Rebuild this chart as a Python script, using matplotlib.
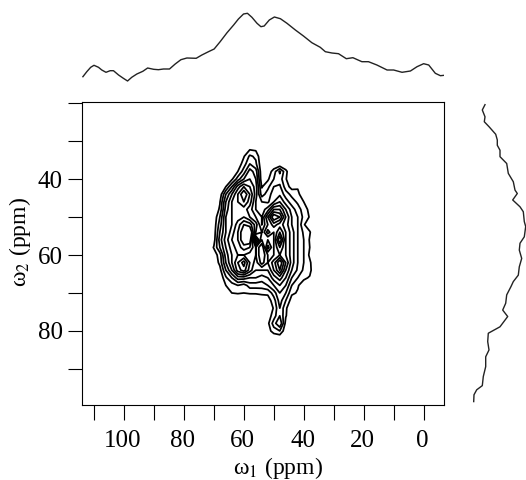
#!/usr/bin/env python3

import numpy as np
import matplotlib
matplotlib.use('Agg')
import matplotlib.pyplot as plt
from matplotlib.transforms import ScaledTranslation

# 2D map, arbitrary intensity units
w1_grid = [72, 70, 68, 66, 64, 62, 60, 58, 56, 54, 52, 50, 48, 46, 44, 42, 40, 38, 36]
w2_grid = [30, 32, 34, 36, 38, 40, 42, 44, 46, 48, 50, 52, 54, 56, 58, 60, 62, 64, 66,
           68, 70, 72, 74, 76, 78, 80, 82]
intensity = [
    [0, 0, 0, 0, 0, 0, 0, 0, 0, 0, 0, 0, 0, 0, 0, 0, 0, 0, 0],
    [0, 0, 0, 0, 0, 0, 0, 0.8, 0.7, 0, 0, 0, 0, 0, 0, 0, 0, 0, 0],
    [0, 0, 0, 0, 0, 0, 0.9, 2.2, 1.8, 0, 0, 0, 0, 0, 0, 0, 0, 0, 0],
    [0, 0, 0, 0, 0, 0.3, 1.5, 3, 2.2, 0.2, 0, 0, 0, 0, 0, 0, 0, 0, 0],
    [0, 0, 0, 0, 0, 1, 2.5, 4.5, 3.5, 0.2, 0.3, 1.5, 3.2, 1.3, 0, 0, 0, 0, 0],
    [0, 0, 0, 0, 0.8, 2.5, 4, 5, 4, 0.3, 0.8, 2, 2.5, 1.1, 0, 0, 0, 0, 0],
    [0, 0, 0, 1, 3, 5.5, 7, 6, 4.5, 0.9, 1.7, 3, 3.2, 1.5, 0.6, 0.9, 0, 0, 0],
    [0, 0, 0.3, 3, 5, 7, 9, 7, 4.5, 1.5, 2.5, 3.5, 3.8, 2.5, 1.7, 1.2, 0.5, 0, 0],
    [0, 0, 0.9, 4, 6, 7, 8, 6.5, 4, 3, 2.8, 4, 5, 3.5, 2.5, 1.8, 1, 0.3, 0],
    [0, 0, 1.2, 4.5, 6, 6.5, 6.5, 5.5, 4, 3.5, 4.5, 7, 7, 5, 3.5, 2.5, 1.5, 0.7, 0],
    [0, 0.2, 2, 5, 6, 6.5, 7, 6, 5, 4, 7, 10, 9, 6, 4, 3, 1.7, 0.9, 0],
    [0, 0.3, 2.5, 5, 6, 7.5, 9, 8.5, 6.5, 4, 6, 7.5, 6.5, 5.5, 4, 3, 1.1, 0.4, 0],
    [0, 0.4, 3, 5, 6.5, 8, 10, 10.5, 6, 5, 7.5, 6, 8, 6, 4.5, 3, 1.8, 1.1, 0],
    [0, 0.5, 3.5, 5.5, 7, 8, 10, 10, 2, 6, 5, 6, 10, 6, 4.5, 3, 2, 0.9, 0],
    [0, 1.1, 3, 5, 6.5, 7.5, 8.5, 8, 6, 8, 3.5, 6, 8, 6, 4.5, 3, 2, 1, 0],
    [0, 0.4, 1.5, 4.5, 6, 7, 7, 6.5, 6, 8, 6, 6, 7, 6, 4.5, 3, 2, 0.8, 0],
    [0, 0.1, 1.3, 4, 6, 8, 9.5, 7, 5.5, 7.5, 6, 7.5, 10, 7, 4.5, 3, 2, 1.2, 0],
    [0, 0, 0.6, 3, 5, 7.5, 8.5, 6.5, 5, 5, 5, 7, 9, 6, 4, 2.8, 1.8, 1.3, 0],
    [0, 0, 0.1, 1.8, 3, 4.5, 4.5, 4, 4, 3.5, 4, 5.5, 6.5, 5, 3, 2, 1.2, 0.9, 0],
    [0, 0, 0, 1, 1.5, 2, 1.5, 2.5, 2.5, 2.5, 3, 4, 5, 4, 2, 1.1, 0.5, 0, 0],
    [0, 0, 0, 0.5, 1, 1.1, 1, 1.1, 1.1, 1.2, 1.2, 2.5, 4, 3, 1.2, 0.9, 0, 0, 0],
    [0, 0, 0, 0, 0, 0, 0, 0.1, 0.2, 0.3, 0.5, 1.5, 3.5, 2, 0.5, 0, 0, 0, 0],
    [0, 0, 0, 0, 0, 0, 0, 0, 0, 0, 0.2, 1.1, 3, 1.2, 0, 0, 0, 0, 0],
    [0, 0, 0, 0, 0, 0, 0, 0, 0, 0, 0.4, 1.5, 3, 1.1, 0, 0, 0, 0, 0],
    [0, 0, 0, 0, 0, 0, 0, 0, 0, 0, 0.7, 2.5, 4, 0.6, 0, 0, 0, 0, 0],
    [0, 0, 0, 0, 0, 0, 0, 0, 0, 0, 0.5, 1.5, 2, 0.2, 0, 0, 0, 0, 0],
    [0, 0, 0, 0, 0, 0, 0, 0, 0, 0, 0, 0, 0, 0, 0, 0, 0, 0, 0],
]
levels = [1, 2, 3, 4, 5, 6, 7, 8, 9]

# projection on top
top_w1 = [113.7, 112.4, 111.1, 110.0, 108.5, 107.4, 106.0, 104.6, 103.5, 101.8, 100.2,
          98.8, 97.4, 95.7, 93.7, 92.1, 90.1, 88.5, 86.8, 84.8, 82.9, 81.0, 79.0, 75.9,
          74.0, 71.8, 69.9, 67.9, 65.6, 63.4, 61.8, 60.1, 58.8, 57.3, 55.6, 54.3, 53.2,
          51.5, 49.8, 47.8, 45.6, 42.8, 40.1, 37.3, 34.5, 32.8, 30.6, 28.4, 25.8, 23.6,
          20.6, 18.4, 15.6, 12.2, 10.0, 7.2, 4.4, 2.2, 0.0, -1.7, -3.9, -5.6, -6.9]
top_int = [13.3, 18.3, 22.7, 24.7, 22.7, 20, 17.7, 19.3, 19.3, 15, 11.7,
           9, 12.7, 16, 18.7, 22, 20.7, 20.3, 21, 21, 26, 30.3, 32, 31.7,
           35, 38.3, 41, 48.3, 57.3, 65, 71, 76, 76.7, 72.7, 66.7, 63.3, 64,
           70, 73, 71.3, 66.7, 60, 54, 47.3, 42.7, 38.3, 37, 36.3, 31.3, 32.3,
           28.3, 28.3, 25, 20, 20, 17.7, 19, 23.3, 26.3, 25, 16.7, 14.3, 14.7]

# projection on the right
right_w2 = [20.4, 21.8, 23.6, 24.9, 26.2, 28.2, 29.7, 31.1, 32.4, 34.1, 35.9, 38.5, 40.7,
            42.9, 43.8, 45.5, 47.3, 48.6, 51.2, 52.5, 55.2, 56.9, 58.7, 60.9, 63.1, 65.3,
            67.0, 68.3, 70.5, 72.7, 74.5, 76.2, 78.9, 80.6, 82.8, 85.0, 86.8, 89.4, 92.0,
            94.4, 95.5, 96.8, 98.6]
right_int = [20, 17.3, 20, 19.3, 24, 30.7, 32.3, 32.3, 35, 35, 41.7, 43.3, 48.3,
             50, 52.3, 47.7, 55, 58.3, 59.3, 60.7, 59.3, 55, 54.3, 56.7, 54.3, 53.3,
             48.3, 46, 41.7, 40.7, 37.7, 42.7, 35, 23.3, 22.7, 24, 20.7, 20.7, 18.3,
             17.3, 11.7, 9, 8.7]

x_ticks = [110, 100, 90, 80, 70, 60, 50, 40, 30, 20, 10, 0]
x_labels = ['', '100', '', '80', '', '60', '', '40', '', '20', '', '0']
y_ticks = [20, 30, 40, 50, 60, 70, 80, 90]
y_labels = ['', '', '40', '', '60', '', '80', '']

W, H = 526.0, 480.0
XLIM = (114, -6.8)
YLIM = (99.5, 19.7)


def px_axes(fig, left, top, right, bottom):
    return fig.add_axes([left / W, 1 - bottom / H, (right - left) / W, (bottom - top) / H])


def main():
    plt.rcParams['font.family'] = ['Liberation Serif', 'DejaVu Serif']
    plt.rcParams['mathtext.fontset'] = 'stix'

    fig = plt.figure(figsize=(W / 100, H / 100), dpi=100)

    ax = px_axes(fig, 82, 102, 444, 405)
    ax.contour(w1_grid, w2_grid, np.array(intensity), levels=levels, colors='black', linewidths=1.25)
    ax.set_xlim(XLIM)
    ax.set_ylim(YLIM)
    ax.set_xticks(x_ticks, x_labels)
    ax.set_yticks(y_ticks, y_labels)
    ax.tick_params(axis='x', length=10.5, width=0.8, labelsize=18, pad=7.5)
    ax.tick_params(axis='y', length=10, width=0.8, labelsize=18, pad=4)
    shift = ScaledTranslation(-1 / 100, 0, fig.dpi_scale_trans)
    for label in ax.get_xticklabels():
        label.set_transform(label.get_transform() + shift)
    ax.set_xlabel('ω$_1$ (ppm)', fontsize=17)
    ax.xaxis.set_label_coords((278 - 82) / 362, -63 / 303, transform=ax.transAxes)
    ax.xaxis.label.set_verticalalignment('center')
    ax.set_ylabel('ω$_2$ (ppm)', fontsize=17)
    ax.yaxis.set_label_coords(-62 / 362, (405 - 242) / 303, transform=ax.transAxes)
    ax.yaxis.label.set_verticalalignment('center')

    top = px_axes(fig, 82, 0, 444, 90)
    top.plot(top_w1, top_int, color='#222222', lw=1.0)
    top.set_xlim(XLIM)
    top.set_ylim(0, 90)
    top.axis('off')

    right = px_axes(fig, 465, 102, 526, 405)
    right.plot(right_int, right_w2, color='#222222', lw=1.0)
    right.set_xlim(0, 61)
    right.set_ylim(YLIM)
    right.axis('off')

    fig.savefig('out.png', dpi=100)


if __name__ == '__main__':
    main()
